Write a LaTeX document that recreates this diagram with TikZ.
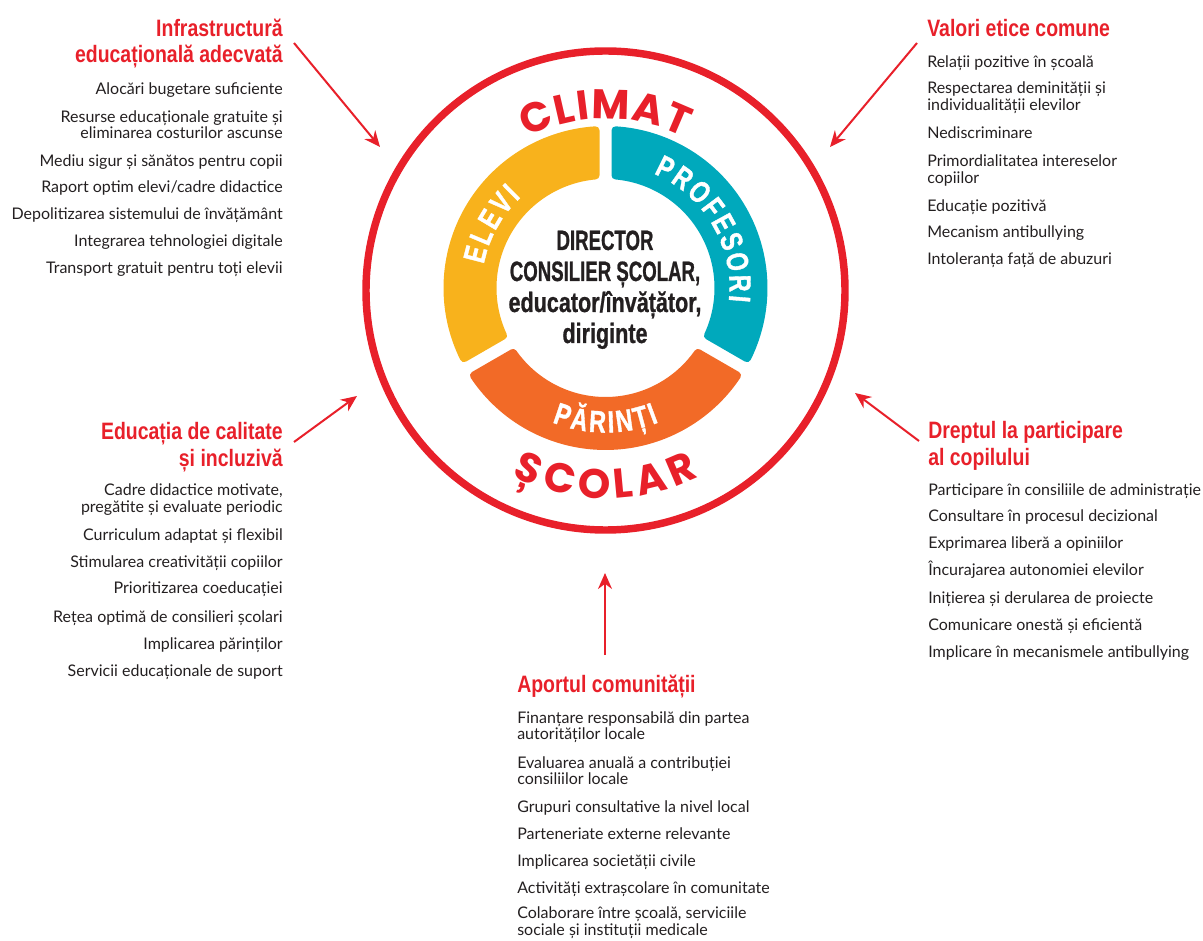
\documentclass[tikz,border=0pt]{standalone}
\usepackage{fontspec}
\setmainfont{Lato}
\newfontfamily\headfont{Liberation Sans}[FakeStretch=0.82]
\newfontfamily\ctrfont{Liberation Sans}[FakeStretch=0.665,BoldFeatures={FakeBold=0.8}]
\newfontfamily\ctrlfont{Liberation Sans}[FakeStretch=0.77,BoldFeatures={FakeBold=0.8}]
\newfontfamily\ringfont{Liberation Sans}[FakeStretch=0.76,BoldFeatures={FakeBold=1.2}]
\newfontfamily\circfont{Poppins}
\usetikzlibrary{arrows.meta,decorations.text,calc}
\definecolor{myred}{HTML}{E8202A}
\definecolor{yel}{HTML}{F8B21C}
\definecolor{tealc}{HTML}{00A9BC}
\definecolor{orng}{HTML}{F26A27}
\definecolor{ink}{HTML}{231F20}
\newcommand{\rk}{{\kern2pt}}
\newcommand{\ck}{{\kern1pt}}
\newcommand{\sk}{{\kern4pt}}
\tikzset{
  body/.style={font=\fontsize{12}{14}\selectfont, text=ink, inner sep=0pt},
  head/.style={font=\headfont\bfseries\fontsize{17.8}{20}\selectfont, text=myred, inner sep=0pt},
  ctr/.style={font=\ctrfont\bfseries\fontsize{21}{23}\selectfont, text=ink, inner sep=0pt},
  ctrl/.style={font=\ctrlfont\bfseries\fontsize{21}{23}\selectfont, text=ink, inner sep=0pt},
  arr/.style={draw=myred, line width=1.5pt, -{Stealth[length=12pt,width=10.5pt]}},
  seg/.style={line width=6pt, line join=round},
}
\begin{document}
\begin{tikzpicture}[x=0.75pt,y=0.75pt]
\useasboundingbox (0,0) rectangle (1203,940);
\coordinate (rc) at (605.5,652);
\coordinate (cc) at (605.5,649.5);
% big red circle
\draw[myred, line width=5.6pt] (cc) circle[radius=239.5];
% ring segments
\filldraw[seg, fill=yel, draw=yel] ($(rc)+(93.63:158)$) arc[start angle=93.63, end angle=206.37, radius=158] -- ($(rc)+(204.92:113)$) arc[start angle=204.92, end angle=95.08, radius=113] -- cycle;
\filldraw[seg, fill=tealc, draw=tealc] ($(rc)+(-26.37:158)$) arc[start angle=-26.37, end angle=86.37, radius=158] -- ($(rc)+(84.92:113)$) arc[start angle=84.92, end angle=-24.92, radius=113] -- cycle;
\filldraw[seg, fill=orng, draw=orng] ($(rc)+(213.63:158)$) arc[start angle=213.63, end angle=326.37, radius=158] -- ($(rc)+(324.92:113)$) arc[start angle=324.92, end angle=215.08, radius=113] -- cycle;
% ring labels
\path[decorate, decoration={text along path, text align=center, text={|\ringfont\bfseries\fontsize{23}{23}\selectfont\color{white}|E\rk L\rk E\rk V\rk I}}] ($(rc)+(201:124)$) arc[start angle=201, end angle=101, radius=124];
\path[decorate, decoration={text along path, text align=center, text={|\ringfont\bfseries\fontsize{23}{23}\selectfont\color{white}|P\rk R\rk O\rk F\rk E\rk S\rk O\rk R\rk I}}] ($(rc)+(80.5:124)$) arc[start angle=80.5, end angle=-19.5, radius=124];
\path[decorate, decoration={text along path, text align=center, text={|\ringfont\bfseries\fontsize{23}{23}\selectfont\color{white}|P\rk Ă\rk R\rk I\rk N\rk Ț\rk I}}] ($(rc)+(220:144.5)$) arc[start angle=220, end angle=320, radius=144.5];
% circle labels
\path[decorate, decoration={text along path, text align=center, text={|\circfont\bfseries\fontsize{31}{31}\selectfont\color{myred}|C\ck L\ck I\ck M\ck A\ck T}}] ($(cc)+(140:172)$) arc[start angle=140, end angle=40, radius=172];
\path[decorate, decoration={text along path, text align=center, text={|\circfont\bfseries\fontsize{31}{31}\selectfont\color{myred}|Ș\sk C\sk O\sk L\sk A\sk R}}] ($(cc)+(215:208)$) arc[start angle=215, end angle=325, radius=208];
% centre text
\node[ctr, anchor=base] (c1) at (605,690) {DIRECTOR};
\node[ctr, anchor=base] (c2) at (605,659) {CONSILIER ȘCOLAR,};
\node[ctrl, anchor=base] (c3) at (605,628) {educator/învățător,};
\node[ctrl, anchor=base] (c4) at (605,597) {diriginte};
% top left block
\node[head, anchor=base east] (h1a) at (283,903) {Infrastructură};
\node[head, anchor=base east] (h1b) at (283,877) {educațională adecvată};
\foreach \t/\y [count=\i] in {{Alocări bugetare suficiente}/95, {Resurse educaționale gratuite și}/123, {eliminarea costurilor ascunse}/139, {Mediu sigur și sănătos pentru copii}/167, {Raport optim elevi/cadre didactice}/193, {Depolitizarea sistemului de învățământ}/220, {Integrarea tehnologiei digitale}/247, {Transport gratuit pentru toți elevii}/274}
  \node[body, anchor=base east] (a\i) at (283,{940-\y}) {\t};
% top right block
\node[head, anchor=base west] (h2) at (927,903) {Valori etice comune};
\foreach \t/\y [count=\i] in {{Relații pozitive în școală}/68, {Respectarea deminității și}/94, {individualității elevilor}/111, {Nediscriminare}/139, {Primordialitatea intereselor}/167, {copiilor}/184, {Educație pozitivă}/212, {Mecanism antibullying}/238, {Intoleranța față de abuzuri}/265}
  \node[body, anchor=base west] (b\i) at (927,{940-\y}) {\t};
% middle left block
\node[head, anchor=base east] (h3a) at (283,500) {Educația de calitate};
\node[head, anchor=base east] (h3b) at (283,473) {și incluzivă};
\foreach \t/\y [count=\i] in {{Cadre didactice motivate,}/496, {pregătite și evaluate periodic}/513, {Curriculum adaptat și flexibil}/541, {Stimularea creativității copiilor}/567, {Prioritizarea coeducației}/594, {Rețea optimă de consilieri școlari}/622, {Implicarea părinților}/649, {Servicii educaționale de suport}/676}
  \node[body, anchor=base east] (d\i) at (283,{940-\y}) {\t};
% middle right block
\node[head, anchor=base west] (h4a) at (928,501) {Dreptul la participare};
\node[head, anchor=base west] (h4b) at (928,474) {al copilului};
\foreach \t/\y [count=\i] in {{Participare în consiliile de administrație}/496, {Consultare în procesul decizional}/522, {Exprimarea liberă a opiniilor}/549, {Încurajarea autonomiei elevilor}/576, {Inițierea și derularea de proiecte}/603, {Comunicare onestă și eficientă}/630, {Implicare în mecanismele antibullying}/657}
  \node[body, anchor=base west] (e\i) at (928,{940-\y}) {\t};
% bottom block
\node[head, anchor=base west] (h5) at (517,248) {Aportul comunității};
\foreach \t/\y [count=\i] in {{Finanțare responsabilă din partea}/723, {autorităților locale}/739, {Evaluarea anuală a contribuției}/768, {consiliilor locale}/784, {Grupuri consultative la nivel local}/812, {Parteneriate externe relevante}/839, {Implicarea societății civile}/866, {Activități extrașcolare în comunitate}/893, {Colaborare între școală, serviciile}/918, {sociale și instituții medicale}/935}
  \node[body, anchor=base west] (f\i) at (517,{940-\y}) {\t};
% arrows
\coordinate (s1) at (294,897); \coordinate (t1) at (380,793);
\coordinate (s2) at (917,897); \coordinate (t2) at (830,793);
\coordinate (s3) at (294,498); \coordinate (t3) at (357,544);
\coordinate (s4) at (919,499); \coordinate (t4) at (855,547);
\coordinate (s5) at (605,285); \coordinate (t5) at (605,367);
\draw[arr] (s1) -- (t1);
\draw[arr] (s2) -- (t2);
\draw[arr] (s3) -- (t3);
\draw[arr] (s4) -- (t4);
\draw[arr] (s5) -- (t5);
\end{tikzpicture}
\end{document}
